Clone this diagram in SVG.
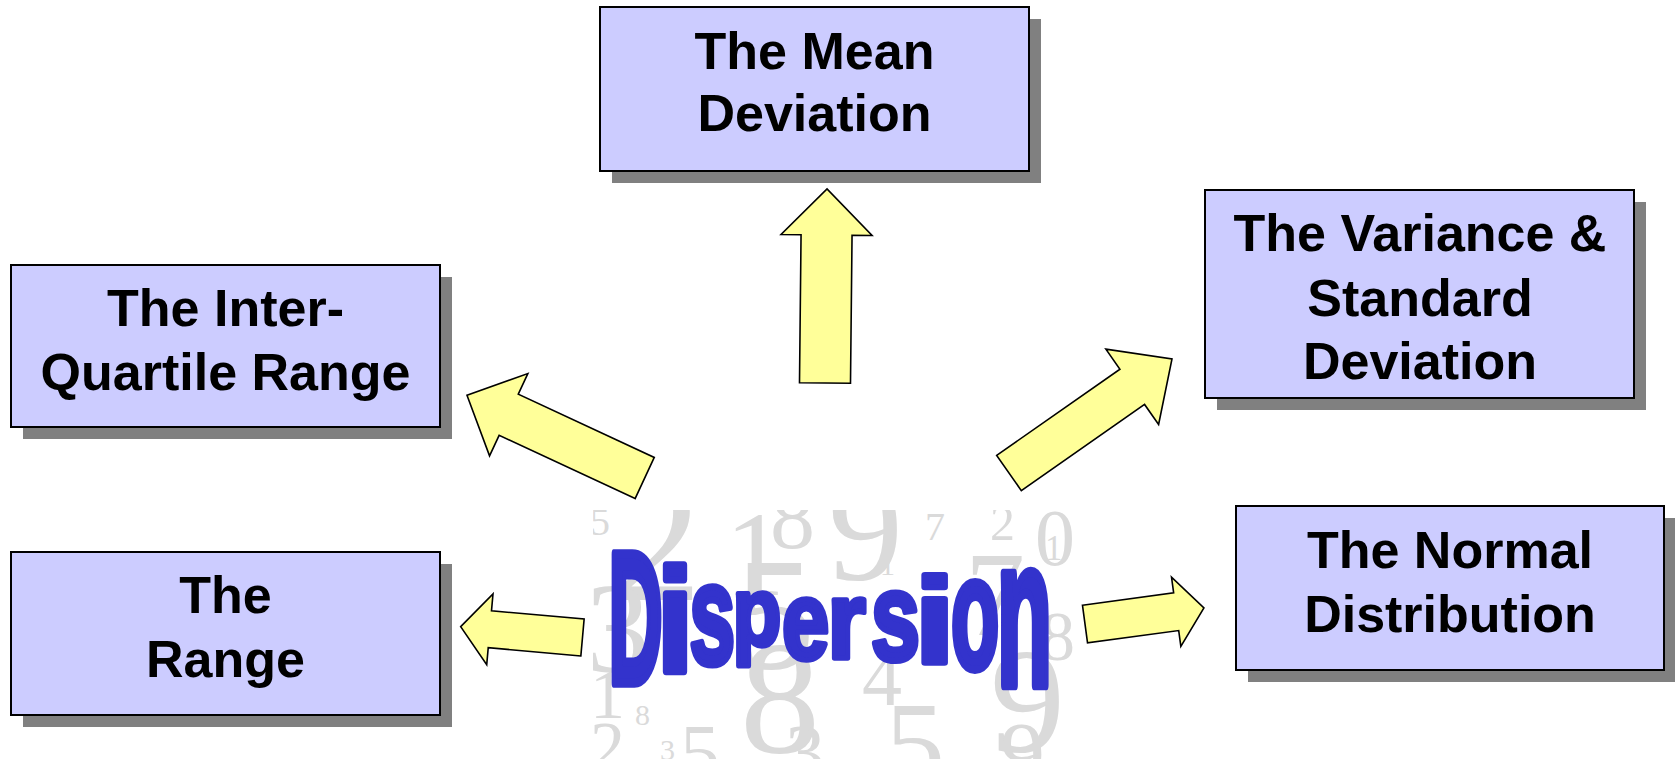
<svg xmlns="http://www.w3.org/2000/svg" width="1675" height="759" viewBox="0 0 1675 759">
<style>
.box{fill:#CCCCFF;stroke:#000;stroke-width:2}
.shadow{fill:#808080}
.lbl{font-family:"Liberation Sans",Arial,sans-serif;font-weight:bold;font-size:52px;fill:#000;text-anchor:middle}
.arrow{fill:#FFFF99;stroke:#000;stroke-width:1.6;stroke-linejoin:miter}
.dg{font-family:"Liberation Serif","Times New Roman",serif;fill:#dadada}
.dl{font-family:"Liberation Sans",Arial,sans-serif;font-weight:bold;font-size:100px;fill:#3333CC;stroke:#3333CC;stroke-width:5;stroke-linejoin:round}
</style>
<defs>
<clipPath id="numclip"><rect x="593" y="510" width="480" height="249"/></clipPath>
</defs>
<rect width="1675" height="759" fill="#fff"/>

<g id="numbers-bg" clip-path="url(#numclip)">
<text class="dg" x="590" y="535" font-size="40">5</text>
<text class="dg" x="612" y="600" font-size="180">2</text>
<text class="dg" x="725" y="595" font-size="120">1</text>
<text class="dg" x="770" y="548" font-size="90">8</text>
<text class="dg" x="828" y="580" font-size="150">9</text>
<text class="dg" x="925" y="540" font-size="40">7</text>
<text class="dg" x="990" y="540" font-size="50">2</text>
<text class="dg" x="1035" y="565" font-size="80">0</text>
<text class="dg" x="1045" y="560" font-size="35">1</text>
<text class="dg" x="735" y="668" font-size="160">5</text>
<text class="dg" x="880" y="575" font-size="30">1</text>
<text class="dg" x="965" y="635" font-size="120">7</text>
<text class="dg" x="585" y="672" font-size="130">3</text>
<text class="dg" x="740" y="752" font-size="160">8</text>
<text class="dg" x="862" y="705" font-size="80">4</text>
<text class="dg" x="990" y="752" font-size="150">9</text>
<text class="dg" x="590" y="718" font-size="70">1</text>
<text class="dg" x="635" y="725" font-size="30">8</text>
<text class="dg" x="590" y="770" font-size="70">2</text>
<text class="dg" x="660" y="760" font-size="30">3</text>
<text class="dg" x="680" y="780" font-size="80">5</text>
<text class="dg" x="785" y="780" font-size="80">3</text>
<text class="dg" x="885" y="785" font-size="120">5</text>
<text class="dg" x="1000" y="785" font-size="90">9</text>
<text class="dg" x="1040" y="660" font-size="70">8</text>
</g>

<g id="connectors">
<polygon class="arrow" transform="translate(825,383) rotate(-89.4)" points="0,-25.5 148,-25.5 148,-45.5 194,0 148,45.5 148,25.5 0,25.5"/>
<polygon class="arrow" transform="translate(644.7,478) rotate(-155.05)" points="0,-22.7 150,-22.7 150,-45.4 196,0 150,45.4 150,22.7 0,22.7"/>
<polygon class="arrow" transform="translate(582.5,637.5) rotate(-174.93)" points="0,-18.5 93,-18.5 93,-35.5 122.3,0 93,35.5 93,18.5 0,18.5"/>
<polygon class="arrow" transform="translate(1009,473) rotate(-34.97)" points="0,-21.5 150.4,-21.5 150.4,-46 198.9,0 150.4,46 150.4,21.5 0,21.5"/>
<polygon class="arrow" transform="translate(1085,624) rotate(-7.66)" points="0,-19 92,-19 92,-35 120,0 92,35 92,19 0,19"/>
</g>

<g id="dispersion">
<text class="dl" transform="translate(608.5,683) scale(0.75,1.88)">D</text>
<text class="dl" transform="translate(657,671) scale(1.3,1.46)">i</text>
<text class="dl" transform="translate(689.5,664) scale(0.82,1.42)">s</text>
<text class="dl" transform="translate(732.5,646) scale(0.80,0.98)">p</text>
<text class="dl" transform="translate(782,658.5) scale(0.85,1.12)">e</text>
<text class="dl" transform="translate(827.5,658) scale(0.98,1.1)">r</text>
<text class="dl" transform="translate(871,659.5) scale(0.88,1.25)">s</text>
<text class="dl" transform="translate(915,663) scale(1.42,1.2)">i</text>
<text class="dl" transform="translate(951,667.5) scale(0.79,1.59)">o</text>
<text class="dl" transform="translate(997,685) scale(0.9,2.1)">n</text>
</g>

<g id="node-mean">
<rect class="shadow" x="612" y="19" width="429" height="164"/>
<rect class="box" x="600" y="7" width="429" height="164"/>
<text class="lbl" x="814.5" y="69">The Mean</text>
<text class="lbl" x="814.5" y="131">Deviation</text>
</g>

<g id="node-iqr">
<rect class="shadow" x="23" y="277" width="429" height="162"/>
<rect class="box" x="11" y="265" width="429" height="162"/>
<text class="lbl" x="225.5" y="326">The Inter-</text>
<text class="lbl" x="225.5" y="390">Quartile Range</text>
</g>

<g id="node-range">
<rect class="shadow" x="23" y="564" width="429" height="163"/>
<rect class="box" x="11" y="552" width="429" height="163"/>
<text class="lbl" x="225.5" y="613">The</text>
<text class="lbl" x="225.5" y="677">Range</text>
</g>

<g id="node-variance">
<rect class="shadow" x="1217" y="202" width="429" height="208"/>
<rect class="box" x="1205" y="190" width="429" height="208"/>
<text class="lbl" x="1420" y="251">The Variance &amp;</text>
<text class="lbl" x="1420" y="316">Standard</text>
<text class="lbl" x="1420" y="379">Deviation</text>
</g>

<g id="node-normal">
<rect class="shadow" x="1248" y="518" width="428" height="164"/>
<rect class="box" x="1236" y="506" width="428" height="164"/>
<text class="lbl" x="1450" y="568">The Normal</text>
<text class="lbl" x="1450" y="632">Distribution</text>
</g>
</svg>
